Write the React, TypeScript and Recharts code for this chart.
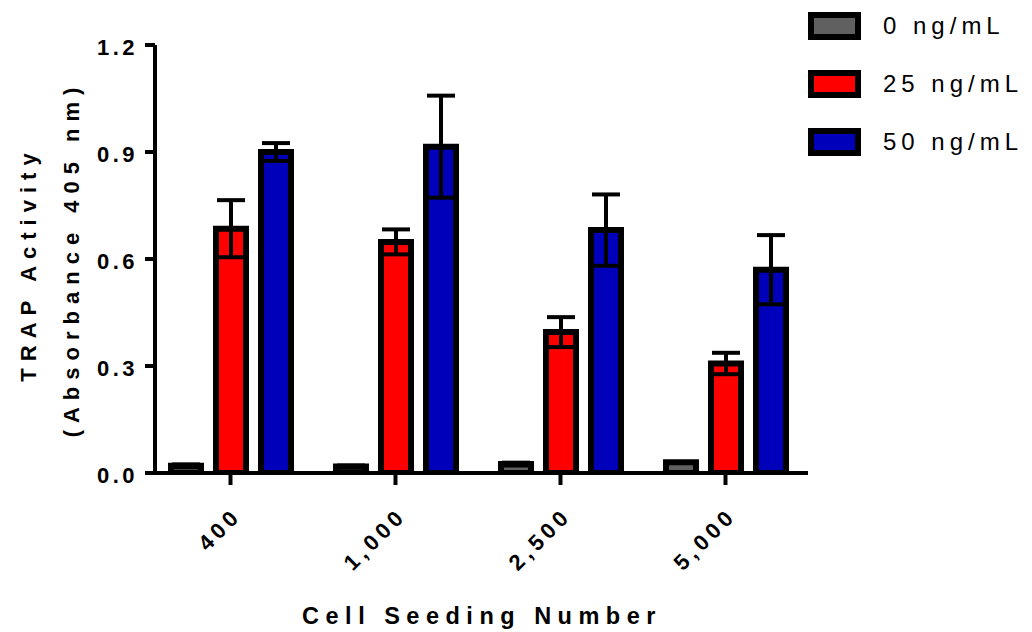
import { BarChart, Bar, XAxis, YAxis, ErrorBar } from 'recharts';

const categories = ['400', '1,000', '2,500', '5,000'];
const dose0 = [0.02, 0.018, 0.025, 0.03];
const dose0Err = [0.004, 0.003, 0.004, 0];
const dose25 = [0.685, 0.648, 0.395, 0.307];
const dose25Err = [0.08, 0.035, 0.042, 0.03];
const dose50 = [0.9, 0.915, 0.681, 0.57];
const dose50Err = [0.025, 0.143, 0.1, 0.097];
const yTicks = [0, 0.3, 0.6, 0.9, 1.2];

const series = [
  { key: 'd0', name: '0 ng/mL', color: '#606060' },
  { key: 'd25', name: '25 ng/mL', color: '#ff0000' },
  { key: 'd50', name: '50 ng/mL', color: '#0000bb' },
];

const data = categories.map((c, i) => ({
  name: c,
  d0: dose0[i],
  d0Err: dose0Err[i],
  d25: dose25[i],
  d25Err: dose25Err[i],
  d50: dose50[i],
  d50Err: dose50Err[i],
}));

const FONT = '"Liberation Sans", Arial, sans-serif';

function XTick({ x, y, payload }: any) {
  return (
    <text
      x={0}
      y={0}
      dx={4.5}
      transform={`translate(${x + 9},${y + 33}) rotate(-45)`}
      textAnchor="end"
      fontFamily={FONT}
      fontWeight="bold"
      fontSize={22}
      letterSpacing={4.5}
      fill="#000"
    >
      {payload.value}
    </text>
  );
}

function YTick({ x, y, payload }: any) {
  return (
    <text
      x={x}
      y={y}
      dx={3}
      dy={10}
      textAnchor="end"
      fontFamily={FONT}
      fontWeight="bold"
      fontSize={22}
      letterSpacing={3.5}
      fill="#000"
    >
      {payload.value.toFixed(1)}
    </text>
  );
}

function YTitle() {
  const common = {
    fontFamily: FONT,
    fontWeight: 'bold' as const,
    fontSize: 22,
    letterSpacing: 7,
    fill: '#000',
    textAnchor: 'middle' as const,
  };
  return (
    <g>
      <text {...common} transform="translate(36,264) rotate(-90)">
        TRAP Activity
      </text>
      <text {...common} transform="translate(79,259) rotate(-90)">
        (Absorbance 405 nm)
      </text>
    </g>
  );
}

function XTitle() {
  return (
    <text
      x={482}
      y={624}
      textAnchor="middle"
      fontFamily={FONT}
      fontWeight="bold"
      fontSize={23.5}
      letterSpacing={6.5}
      fill="#000"
    >
      Cell Seeding Number
    </text>
  );
}

function LegendBox() {
  return (
    <div
      style={{
        position: 'absolute',
        left: 808,
        top: -3,
        width: 224,
        fontFamily: FONT,
      }}
    >
      {series.map((s) => (
        <div
          key={s.key}
          style={{ display: 'flex', alignItems: 'center', height: 58 }}
        >
          <div
            style={{
              width: 41,
              height: 16,
              border: '6px solid #000',
              background: s.color,
            }}
          />
          <span
            style={{
              marginLeft: 22,
              fontSize: 24,
              letterSpacing: 5,
              color: '#000',
            }}
          >
            {s.name}
          </span>
        </div>
      ))}
    </div>
  );
}

export default function App() {
  return (
    <div
      style={{
        position: 'absolute',
        left: 0,
        top: 0,
        width: 1032,
        height: 632,
        background: '#fff',
      }}
    >
      <BarChart
        width={1032}
        height={632}
        data={data}
        margin={{ top: 45, right: 224, bottom: 0, left: 0 }}
        barSize={30}
        barGap={15}
      >
        <XAxis
          dataKey="name"
          padding={{ left: -7, right: 0 }}
          axisLine={{ stroke: '#000', strokeWidth: 4 }}
          tickLine={{ stroke: '#000', strokeWidth: 4 }}
          tickSize={12}
          tickMargin={2}
          tick={<XTick />}
          interval={0}
          height={159}
          label={<XTitle />}
        />
        <YAxis
          width={155}
          domain={[0, 1.2]}
          ticks={yTicks}
          allowDataOverflow
          axisLine={{ stroke: '#000', strokeWidth: 4 }}
          tickLine={{ stroke: '#000', strokeWidth: 4 }}
          tickSize={10}
          tickMargin={10}
          tick={<YTick />}
          label={<YTitle />}
        />
        {series.map((s) => (
          <Bar
            key={s.key}
            dataKey={s.key}
            name={s.name}
            fill={s.color}
            stroke="#000"
            strokeWidth={6}
            isAnimationActive={false}
          >
            <ErrorBar
              dataKey={`${s.key}Err`}
              direction="y"
              width={14}
              stroke="#000"
              strokeWidth={4}
            />
          </Bar>
        ))}
      </BarChart>
      <LegendBox />
    </div>
  );
}
